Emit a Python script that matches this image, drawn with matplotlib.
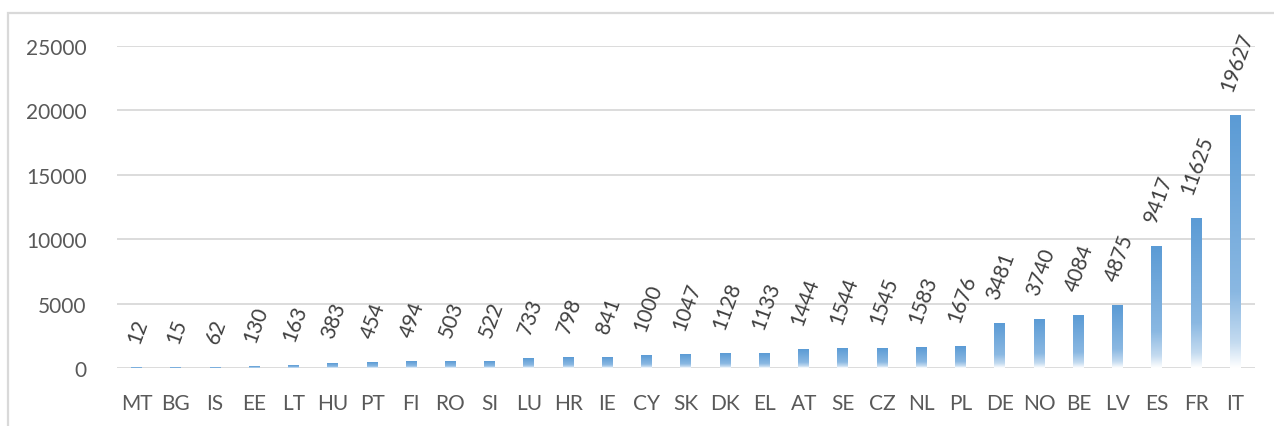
import numpy as np
import matplotlib
matplotlib.use("Agg")
import matplotlib.pyplot as plt
from matplotlib.colors import LinearSegmentedColormap
from matplotlib.patches import Rectangle


countries = ["MT", "BG", "IS", "EE", "LT", "HU", "PT", "FI", "RO", "SI",
             "LU", "HR", "IE", "CY", "SK", "DK", "EL", "AT", "SE", "CZ",
             "NL", "PL", "DE", "NO", "BE", "LV", "ES", "FR", "IT"]
values = [12, 15, 62, 130, 163, 383, 454, 494, 503, 522,
          733, 798, 841, 1000, 1047, 1128, 1133, 1444, 1544, 1545,
          1583, 1676, 3481, 3740, 4084, 4875, 9417, 11625, 19627]
y_ticks = [0, 5000, 10000, 15000, 20000, 25000]

text_color = "#595959"
grid_color = "#d9d9d9"
bar_cmap = LinearSegmentedColormap.from_list(
    "bar_fade", [(0.0, "#ffffff"), (0.1, "#c4dbf0"), (0.3, "#8ab8e2"), (1.0, "#5b9bd5")])

plt.rcParams["font.family"] = ["Lato", "DejaVu Sans"]

fig = plt.figure(figsize=(12.74, 4.27), dpi=100)
ax = fig.add_axes([0.0918, 0.1358, 0.8932, 0.7542])

# outer chart border (cut off at right and bottom, as in the source)
fig.patches.append(Rectangle((8 / 1274, -0.2), 1.2, 1.2 - 14 / 427,
                             transform=fig.transFigure, fill=False,
                             edgecolor=grid_color, linewidth=1.6))

x = np.arange(len(countries))
bar_w = 0.28
gradient = np.linspace(0, 1, 256).reshape(-1, 1)
for xi, v in zip(x, values):
    ax.imshow(gradient, cmap=bar_cmap, origin="lower", aspect="auto",
              extent=(xi - bar_w / 2, xi + bar_w / 2, 0, v), zorder=3,
              interpolation="bilinear")
    ax.annotate(str(v), (xi, v), xytext=(1, 16), textcoords="offset points",
                rotation=70, ha="center", va="bottom", fontsize=15,
                color="#404040")

ax.set_xlim(-0.5, len(countries) - 0.5)
ax.set_ylim(0, 25000)
ax.set_yticks(y_ticks)
ax.set_yticklabels([str(t) for t in y_ticks])
ax.set_xticks(x)
ax.set_xticklabels(countries)
ax.tick_params(axis="both", length=0, labelsize=15, labelcolor=text_color)
ax.tick_params(axis="y", pad=22)
ax.tick_params(axis="x", pad=18)
ax.grid(axis="y", color=grid_color, linewidth=1.3, zorder=0)
ax.set_axisbelow(True)
for s in ax.spines.values():
    s.set_visible(False)

fig.savefig("out.png", dpi=100)
